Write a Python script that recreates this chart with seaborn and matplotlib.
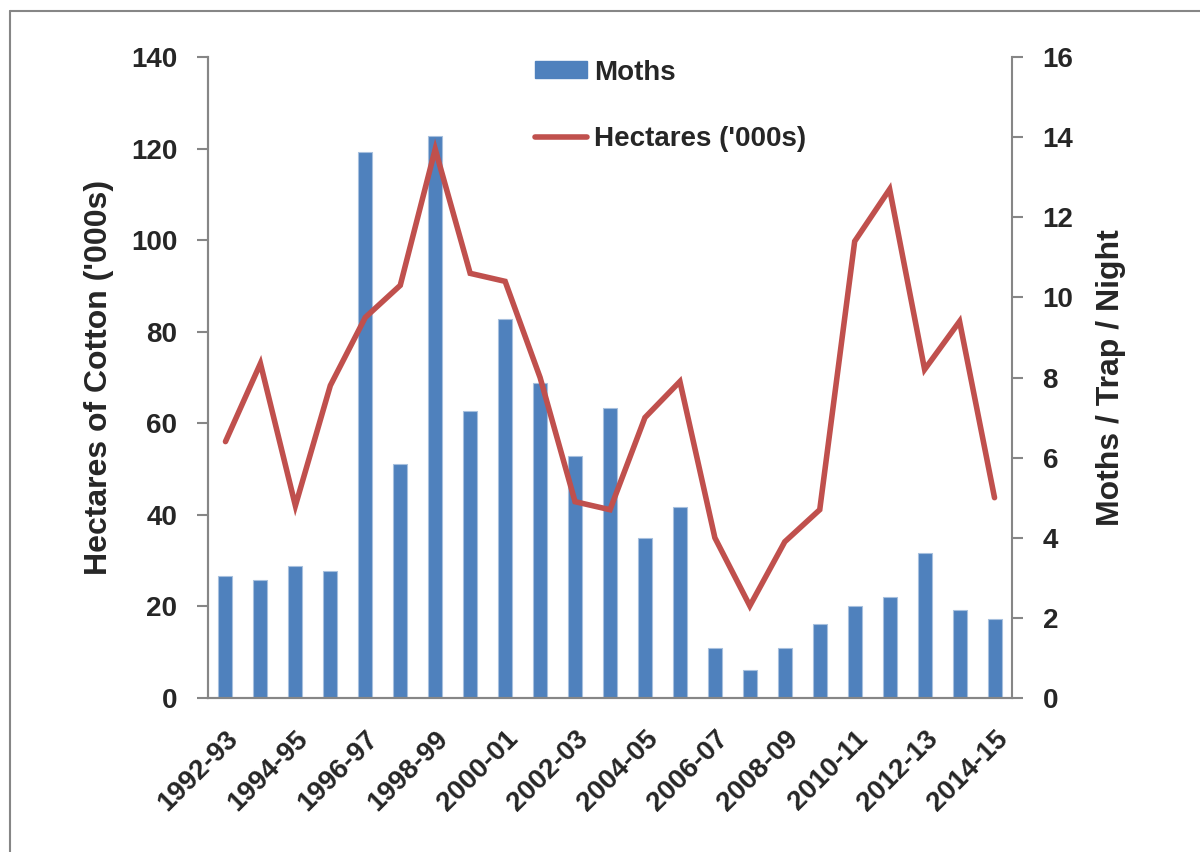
import numpy as np
import pandas as pd
import seaborn as sns
import matplotlib.pyplot as plt
from matplotlib.lines import Line2D
from matplotlib.patches import Patch

seasons = ['1992-93', '1993-94', '1994-95', '1995-96', '1996-97', '1997-98',
           '1998-99', '1999-00', '2000-01', '2001-02', '2002-03', '2003-04',
           '2004-05', '2005-06', '2006-07', '2007-08', '2008-09', '2009-10',
           '2010-11', '2011-12', '2012-13', '2013-14', '2014-15']
moths = [26.6, 25.8, 28.8, 27.7, 119.2, 51.1, 122.7, 62.7, 82.8, 68.8, 52.8, 63.3,
         34.9, 41.7, 10.9, 6.1, 10.9, 16.2, 20.1, 22.1, 31.7, 19.2, 17.3]
hectares = [6.4, 8.35, 4.8, 7.8, 9.5, 10.3, 13.7, 10.6, 10.4, 8.0, 4.9, 4.7,
            7.0, 7.9, 4.0, 2.3, 3.9, 4.7, 11.4, 12.7, 8.2, 9.4, 5.0]

bar_col = '#4F81BD'
line_col = '#C0504D'
axis_col = '#868686'

sns.set_style('white')
plt.rcParams['font.family'] = ['Liberation Sans', 'DejaVu Sans']
plt.rcParams['font.weight'] = 'bold'

df = pd.DataFrame({'season': seasons, 'moths': moths, 'hectares': hectares})
df['pos'] = np.arange(len(df))

fig = plt.figure(figsize=(12, 8.52), dpi=100)
ax = fig.add_axes([208 / 1200, 154 / 852, 804 / 1200, 641 / 852])

sns.barplot(data=df, x='pos', y='moths', color=bar_col, width=0.4,
            saturation=1, native_scale=True, ax=ax, edgecolor='#A7C0DE', linewidth=0.8)
ax.set_xlim(-0.5, len(df) - 0.5)
ax.set_ylim(0, 140)
ax.set_yticks(range(0, 141, 20))

ax2 = ax.twinx()
sns.lineplot(data=df, x='pos', y='hectares', color=line_col, linewidth=4,
             ax=ax2, solid_capstyle='round', solid_joinstyle='miter')
ax2.set_ylim(0, 16)
ax2.set_yticks(range(0, 17, 2))
ax2.set_xlim(-0.5, len(df) - 0.5)

# x ticks: labels every other season, tick marks at category boundaries
ax.set_xticks(df['pos'][::2])
ax.set_xticklabels(df['season'][::2], rotation=45, ha='right', rotation_mode='anchor',
                   fontsize=20, fontweight='bold')
ax.set_xticks(np.arange(-0.5, len(df), 1), minor=True)
ax.tick_params(axis='x', which='major', length=0, pad=20)
ax.tick_params(axis='x', which='minor', length=8, color=axis_col, width=1.5)

ax.tick_params(axis='y', length=8, color=axis_col, width=1.5, labelsize=20, pad=14)
ax2.tick_params(axis='y', length=8, color=axis_col, width=1.5, labelsize=20, pad=14)
for lab in ax.get_yticklabels() + ax2.get_yticklabels():
    lab.set_fontweight('bold')

ax.set_xlabel('')
ax.set_ylabel("Hectares of Cotton ('000s)", fontsize=23, fontweight='bold', labelpad=12)
ax2.set_xlabel('')
ax2.set_ylabel('Moths / Trap / Night', fontsize=23, fontweight='bold', labelpad=16)

for a in (ax, ax2):
    a.spines['top'].set_visible(False)
    for s in ('left', 'right', 'bottom'):
        a.spines[s].set_color(axis_col)
        a.spines[s].set_linewidth(1.5)
ax.spines['right'].set_visible(False)

handles = [Patch(facecolor=bar_col, edgecolor=bar_col),
           Line2D([0], [0], color=line_col, linewidth=4, solid_capstyle='round')]
leg = ax2.legend(handles, ['Moths', "Hectares ('000s)"], loc='upper left',
                 bbox_to_anchor=(0.375, 1.035), frameon=False,
                 handlelength=1.9, handleheight=0.55, labelspacing=1.45, handletextpad=0.25,
                 prop={'weight': 'bold', 'size': 20})

# outer frame lines (left and top)
fig.add_artist(Line2D([10 / 1200, 10 / 1200], [0, 1 - 11 / 852], color=axis_col, linewidth=1.5))
fig.add_artist(Line2D([10 / 1200, 1], [1 - 11 / 852, 1 - 11 / 852], color=axis_col, linewidth=1.5))

fig.savefig('out.png', dpi=100, facecolor='white')
